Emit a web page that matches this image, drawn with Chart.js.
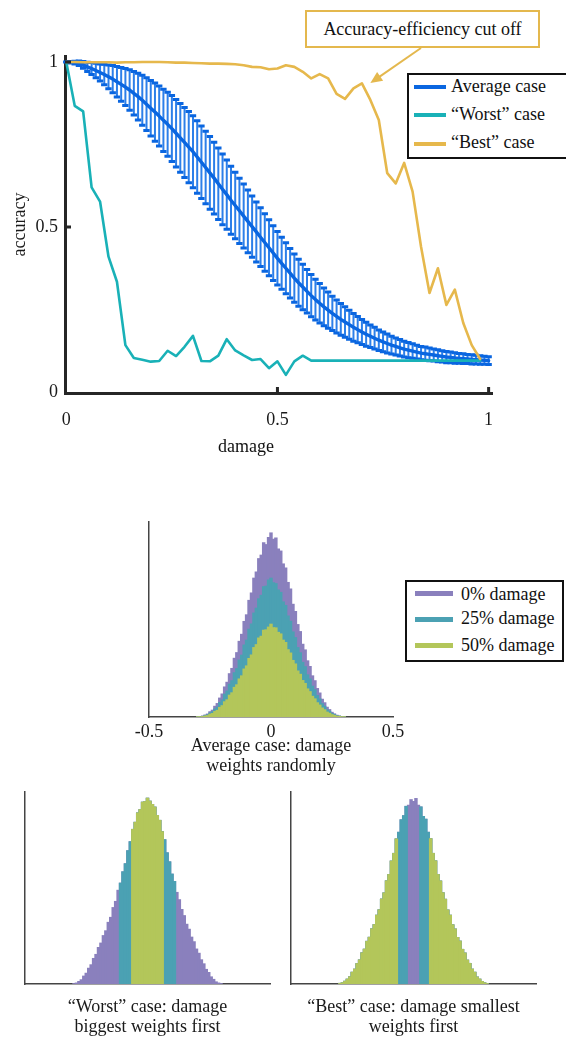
<!DOCTYPE html>
<html>
<head>
<meta charset="utf-8">
<title>Accuracy under weight damage</title>
<script src="https://cdn.jsdelivr.net/npm/chart.js@4.4.1/dist/chart.umd.min.js"></script>
<style>
  html, body { margin: 0; padding: 0; background: #fff; }
  body {
    position: relative; width: 566px; height: 1041px; overflow: hidden;
    font-family: "Liberation Serif", "Times New Roman", serif; font-size: 18px; color: #111;
  }
  canvas { position: absolute; }
  .txt { position: absolute; white-space: nowrap; line-height: 20px; }
  .swatch { position: absolute; }
  .frame { position: absolute; box-sizing: border-box; background: #fff; }
</style>
</head>
<body>
<canvas id="accuracyChart" width="566" height="470" style="left:0;top:0"></canvas>
<canvas id="avgHist" width="320" height="272" style="left:100px;top:510px"></canvas>
<canvas id="worstHist" width="283" height="261" style="left:0;top:780px"></canvas>
<canvas id="bestHist" width="283" height="261" style="left:283px;top:780px"></canvas>

<div class="txt" style="left:196px;top:436px;width:100px;text-align:center">damage</div>

<!-- note above the accuracy plot -->
<div class="frame" style="left:305px;top:10px;width:235px;height:38px;border:2px solid #e4b84e;text-align:center;line-height:34px;">Accuracy-efficiency cut off</div>

<!-- accuracy legend -->
<div class="frame" style="left:407px;top:73px;width:175px;height:86px;border:2px solid #111;"></div>
<div class="swatch" style="left:414px;top:85px;width:32px;height:4px;background:#0a66e0"></div>
<div class="txt" style="left:451px;top:76px">Average case</div>
<div class="swatch" style="left:414px;top:113px;width:32px;height:4px;background:#19b1b7"></div>
<div class="txt" style="left:451px;top:104px">“Worst” case</div>
<div class="swatch" style="left:414px;top:142px;width:32px;height:4px;background:#e6b84c"></div>
<div class="txt" style="left:451px;top:132px">“Best” case</div>

<!-- histogram legend -->
<div class="frame" style="left:405px;top:580px;width:159px;height:82px;border:2px solid #111;"></div>
<div class="swatch" style="left:415px;top:591px;width:38px;height:5px;background:#8a80bd"></div>
<div class="txt" style="left:461px;top:584px">0% damage</div>
<div class="swatch" style="left:415px;top:617px;width:38px;height:5px;background:#4ba1b3"></div>
<div class="txt" style="left:461px;top:608px">25% damage</div>
<div class="swatch" style="left:415px;top:643px;width:38px;height:5px;background:#b3c65a"></div>
<div class="txt" style="left:461px;top:635px">50% damage</div>

<script>
// ---- accuracy vs damage ----
const damageSteps = [
  0.00, 0.01, 0.02, 0.03, 0.04, 0.05, 0.06, 0.07, 0.08, 0.09,
  0.10, 0.11, 0.12, 0.13, 0.14, 0.15, 0.16, 0.17, 0.18, 0.19,
  0.20, 0.21, 0.22, 0.23, 0.24, 0.25, 0.26, 0.27, 0.28, 0.29,
  0.30, 0.31, 0.32, 0.33, 0.34, 0.35, 0.36, 0.37, 0.38, 0.39,
  0.40, 0.41, 0.42, 0.43, 0.44, 0.45, 0.46, 0.47, 0.48, 0.49,
  0.50, 0.51, 0.52, 0.53, 0.54, 0.55, 0.56, 0.57, 0.58, 0.59,
  0.60, 0.61, 0.62, 0.63, 0.64, 0.65, 0.66, 0.67, 0.68, 0.69,
  0.70, 0.71, 0.72, 0.73, 0.74, 0.75, 0.76, 0.77, 0.78, 0.79,
  0.80, 0.81, 0.82, 0.83, 0.84, 0.85, 0.86, 0.87, 0.88, 0.89,
  0.90, 0.91, 0.92, 0.93, 0.94, 0.95, 0.96, 0.97, 0.98, 0.99,
  1.00
];
const avgMean = [
  1.000, 0.999, 0.998, 0.996, 0.991, 0.985, 0.980, 0.974, 0.968, 0.962,
  0.955, 0.948, 0.940, 0.932, 0.924, 0.915, 0.905, 0.895, 0.884, 0.872,
  0.860, 0.848, 0.836, 0.823, 0.811, 0.798, 0.784, 0.770, 0.756, 0.742,
  0.728, 0.712, 0.696, 0.680, 0.664, 0.648, 0.631, 0.614, 0.598, 0.581,
  0.565, 0.549, 0.533, 0.517, 0.501, 0.485, 0.469, 0.453, 0.437, 0.421,
  0.405, 0.390, 0.375, 0.360, 0.345, 0.331, 0.318, 0.305, 0.292, 0.280,
  0.269, 0.258, 0.248, 0.238, 0.229, 0.220, 0.212, 0.204, 0.196, 0.189,
  0.182, 0.175, 0.169, 0.163, 0.157, 0.152, 0.147, 0.142, 0.138, 0.134,
  0.130, 0.127, 0.124, 0.121, 0.118, 0.116, 0.114, 0.112, 0.110, 0.108,
  0.106, 0.105, 0.103, 0.102, 0.101, 0.100, 0.099, 0.098, 0.097, 0.096,
  0.095
];
const avgErr = [
  0.000, 0.002, 0.004, 0.007, 0.010, 0.014, 0.018, 0.022, 0.026, 0.031,
  0.036, 0.041, 0.046, 0.051, 0.056, 0.061, 0.066, 0.071, 0.076, 0.080,
  0.084, 0.088, 0.091, 0.094, 0.097, 0.100, 0.102, 0.104, 0.106, 0.108,
  0.109, 0.110, 0.110, 0.110, 0.110, 0.109, 0.108, 0.107, 0.105, 0.103,
  0.101, 0.099, 0.097, 0.095, 0.093, 0.091, 0.089, 0.087, 0.085, 0.083,
  0.081, 0.079, 0.077, 0.075, 0.073, 0.071, 0.069, 0.066, 0.064, 0.062,
  0.060, 0.057, 0.055, 0.052, 0.050, 0.048, 0.046, 0.044, 0.042, 0.040,
  0.038, 0.036, 0.034, 0.033, 0.031, 0.030, 0.029, 0.027, 0.026, 0.025,
  0.024, 0.023, 0.022, 0.021, 0.020, 0.020, 0.019, 0.018, 0.018, 0.017,
  0.017, 0.016, 0.016, 0.015, 0.015, 0.014, 0.014, 0.013, 0.013, 0.012,
  0.012
];
const caseSteps = [
  0.00, 0.02, 0.04, 0.06, 0.08, 0.10, 0.12, 0.14, 0.16, 0.18,
  0.20, 0.22, 0.24, 0.26, 0.28, 0.30, 0.32, 0.34, 0.36, 0.38,
  0.40, 0.42, 0.44, 0.46, 0.48, 0.50, 0.52, 0.54, 0.56, 0.58,
  0.60, 0.62, 0.64, 0.66, 0.68, 0.70, 0.72, 0.74, 0.76, 0.78,
  0.80, 0.82, 0.84, 0.86, 0.88, 0.90, 0.92, 0.94, 0.96, 0.98
];
const worstAcc = [
  1.000, 0.867, 0.850, 0.620, 0.577, 0.410, 0.334, 0.142, 0.103, 0.098,
  0.092, 0.094, 0.125, 0.109, 0.137, 0.170, 0.094, 0.093, 0.110, 0.160,
  0.126, 0.111, 0.097, 0.100, 0.072, 0.093, 0.052, 0.093, 0.110, 0.095,
  0.095, 0.095, 0.095, 0.095, 0.095, 0.095, 0.095, 0.095, 0.095, 0.095,
  0.095, 0.095, 0.095, 0.095, 0.095, 0.095, 0.095, 0.095, 0.095, 0.095
];
const bestAcc = [
  1.000, 1.000, 0.999, 0.999, 0.999, 0.999, 0.998, 0.999, 0.999, 1.000,
  1.000, 1.000, 0.999, 0.998, 0.998, 0.997, 0.996, 0.995, 0.995, 0.994,
  0.993, 0.990, 0.985, 0.984, 0.978, 0.980, 0.990, 0.985, 0.970, 0.950,
  0.963, 0.950, 0.903, 0.888, 0.920, 0.935, 0.885, 0.824, 0.663, 0.632,
  0.694, 0.607, 0.440, 0.300, 0.375, 0.264, 0.310, 0.209, 0.142, 0.100
];
const damageTicks = [0, 0.5, 1];
const accTicks = [0, 0.5, 1];
const cutoffPoint = { damage: 0.72, accuracy: 0.936 };

// ---- weight histograms (bin centres, counts) ----
const _ = null;
const histBins = [
  -0.30, -0.29, -0.28, -0.27, -0.26, -0.25, -0.24, -0.23, -0.22, -0.21,
  -0.20, -0.19, -0.18, -0.17, -0.16, -0.15, -0.14, -0.13, -0.12, -0.11,
  -0.10, -0.09, -0.08, -0.07, -0.06, -0.05, -0.04, -0.03, -0.02, -0.01,
   0.00,  0.01,  0.02,  0.03,  0.04,  0.05,  0.06,  0.07,  0.08,  0.09,
   0.10,  0.11,  0.12,  0.13,  0.14,  0.15,  0.16,  0.17,  0.18,  0.19,
   0.20,  0.21,  0.22,  0.23,  0.24,  0.25,  0.26,  0.27,  0.28,  0.29,
   0.30
];
const weightTicks = [-0.5, 0, 0.5];
const damageLevels = ['0% damage', '25% damage', '50% damage'];

const avg0 = [1,2,5,10,15,27,35,55,69,97,118,154,178,222,249,301,330,388,424,490,
  524,598,636,712,744,812,830,893,884,921,944,912,918,862,851,785,764,690,656,578,
  541,474,438,373,344,288,259,211,186,146,123,91,73,50,38,24,16,9,5,2,1];
const avg25 = [1,2,3,8,11,20,27,41,51,74,87,117,133,168,186,227,248,292,317,369,
  394,450,477,533,558,606,624,668,671,702,712,688,684,651,639,590,572,518,491,436,
  407,356,329,280,258,216,195,158,140,110,92,68,55,37,29,18,12,6,4,1,1];
const avg50 = [1,1,2,5,7,14,18,28,34,49,58,78,88,112,124,152,165,195,211,246,
  262,300,318,356,371,405,414,445,447,461,476,458,457,434,426,394,382,345,328,290,
  272,236,219,187,172,144,130,106,93,73,61,46,37,25,19,12,8,4,3,1,1];

const worst0 = [2,5,13,22,41,56,82,100,133,154,190,213,252,277,321,347,398,430,488,525,
  584,626,694,741,805,842,890,908,946,950,968,952,935,921,878,852,793,751,683,636,
  572,534,477,439,388,356,311,285,244,220,182,160,126,105,76,60,37,24,11,5,2];
const worst25 = [_,_,_,_,_,_,_,_,_,_,_,_,_,_,_,_,_,_,_,525,
  584,626,694,741,805,842,890,908,946,950,968,952,935,921,878,852,793,751,683,636,
  572,534,_,_,_,_,_,_,_,_,_,_,_,_,_,_,_,_,_,_,_];
const worst50 = [_,_,_,_,_,_,_,_,_,_,_,_,_,_,_,_,_,_,_,_,
  _,_,_,_,805,842,890,908,946,950,968,952,935,921,878,852,793,_,_,_,
  _,_,_,_,_,_,_,_,_,_,_,_,_,_,_,_,_,_,_,_,_];

const best0 = [3,6,14,25,37,61,77,106,125,162,181,222,243,287,309,358,386,442,474,537,
  570,640,680,755,790,855,876,925,931,960,951,966,931,922,872,858,790,756,680,641,
  570,536,475,441,385,358,308,286,242,223,180,161,124,107,77,61,36,25,13,6,2];
const best25 = [3,6,14,25,37,61,77,106,125,162,181,222,243,287,309,358,386,442,474,537,
  570,640,680,755,790,855,876,925,_,_,_,_,_,922,872,858,790,756,680,641,
  570,536,475,441,385,358,308,286,242,223,180,161,124,107,77,61,36,25,13,6,2];
const best50 = [3,6,14,25,37,61,77,106,125,162,181,222,243,287,309,358,386,442,474,537,
  570,640,680,755,_,_,_,_,_,_,_,_,_,_,_,_,_,756,680,641,
  570,536,475,441,385,358,308,286,242,223,180,161,124,107,77,61,36,25,13,6,2];

Chart.defaults.font.family = '"Liberation Serif", "Times New Roman", serif';
Chart.defaults.font.size = 18;
Chart.defaults.color = '#1a1a1a';

const axisInk = '#262626';

// vertical error bars with caps for the average case
const errorBars = {
  id: 'errorBars',
  beforeDatasetsDraw(chart) {
    const { ctx, scales: { x, y } } = chart;
    const cap = 3.2;
    ctx.save();
    damageSteps.forEach((d, i) => {
      const px = x.getPixelForValue(d);
      const hi = y.getPixelForValue(avgMean[i] + avgErr[i]);
      const lo = y.getPixelForValue(avgMean[i] - avgErr[i]);
      ctx.strokeStyle = '#2c7fe9';
      ctx.lineWidth = 2;
      ctx.beginPath();
      ctx.moveTo(px, hi);
      ctx.lineTo(px, lo);
      ctx.stroke();
      ctx.strokeStyle = '#0a66e0';
      ctx.lineWidth = 3;
      ctx.beginPath();
      ctx.moveTo(px - cap, hi); ctx.lineTo(px + cap, hi);
      ctx.moveTo(px - cap, lo); ctx.lineTo(px + cap, lo);
      ctx.stroke();
    });
    ctx.restore();
  }
};

// short tick marks pointing into the plot
const innerTicks = {
  id: 'innerTicks',
  afterDraw(chart) {
    const { ctx, chartArea, scales: { x, y } } = chart;
    ctx.save();
    ctx.strokeStyle = axisInk;
    ctx.lineWidth = 3;
    ctx.beginPath();
    accTicks.filter(v => v > 0).forEach(v => {
      const py = y.getPixelForValue(v);
      ctx.moveTo(chartArea.left, py);
      ctx.lineTo(chartArea.left + 6, py);
    });
    damageTicks.filter(v => v > 0).forEach(v => {
      const px = x.getPixelForValue(v);
      ctx.moveTo(px, chartArea.bottom);
      ctx.lineTo(px, chartArea.bottom - 6);
    });
    ctx.stroke();
    ctx.restore();
  }
};

// arrow from the note box down to the cut-off point
const calloutArrow = {
  id: 'calloutArrow',
  afterDatasetsDraw(chart) {
    const { ctx, scales: { x, y } } = chart;
    const tipX = x.getPixelForValue(cutoffPoint.damage);
    const tipY = y.getPixelForValue(cutoffPoint.accuracy);
    const fromX = 421, fromY = 48;
    const ang = Math.atan2(tipY - fromY, tipX - fromX);
    const head = 13, spread = 0.42;
    ctx.save();
    ctx.strokeStyle = '#e4b84e';
    ctx.fillStyle = '#e4b84e';
    ctx.lineWidth = 2;
    ctx.beginPath();
    ctx.moveTo(fromX, fromY);
    ctx.lineTo(tipX - head * 0.8 * Math.cos(ang), tipY - head * 0.8 * Math.sin(ang));
    ctx.stroke();
    ctx.beginPath();
    ctx.moveTo(tipX, tipY);
    ctx.lineTo(tipX - head * Math.cos(ang - spread), tipY - head * Math.sin(ang - spread));
    ctx.lineTo(tipX - head * Math.cos(ang + spread), tipY - head * Math.sin(ang + spread));
    ctx.closePath();
    ctx.fill();
    ctx.restore();
  }
};

new Chart(document.getElementById('accuracyChart'), {
  type: 'line',
  data: {
    datasets: [
      {
        label: 'Average case',
        data: damageSteps.map((d, i) => ({ x: d, y: avgMean[i] })),
        borderColor: '#0a66e0',
        borderWidth: 3.4,
        order: 3
      },
      {
        label: '“Worst” case',
        data: caseSteps.map((d, i) => ({ x: d, y: worstAcc[i] })),
        borderColor: '#19b1b7',
        borderWidth: 2.6,
        order: 2
      },
      {
        label: '“Best” case',
        data: caseSteps.map((d, i) => ({ x: d, y: bestAcc[i] })),
        borderColor: '#e6b84c',
        borderWidth: 2.6,
        order: 1
      }
    ]
  },
  options: {
    responsive: false,
    animation: false,
    devicePixelRatio: 1,
    layout: { padding: { top: 56, right: 74, left: 0, bottom: 0 } },
    elements: {
      point: { radius: 0 },
      line: { tension: 0, borderJoinStyle: 'round', borderCapStyle: 'round' }
    },
    plugins: { legend: { display: false }, tooltip: { enabled: false } },
    scales: {
      x: {
        type: 'linear',
        min: -0.003,
        max: 1.008,
        afterBuildTicks: s => { s.ticks = damageTicks.map(v => ({ value: v })); },
        afterFit: s => { s.height = 77; },
        grid: { display: false, drawTicks: false },
        border: { color: axisInk, width: 3 },
        ticks: { padding: 16, maxRotation: 0, autoSkip: false, callback: v => String(v) }
      },
      y: {
        min: -0.003,
        max: 1.018,
        afterBuildTicks: s => { s.ticks = accTicks.map(v => ({ value: v })); },
        afterFit: s => { s.width = 65; },
        grid: { display: false, drawTicks: false },
        border: { color: axisInk, width: 3 },
        ticks: { padding: 7, autoSkip: false, callback: v => String(v) },
        title: { display: true, text: 'accuracy', padding: { top: 9, bottom: 0 } }
      }
    }
  },
  plugins: [errorBars, innerTicks, calloutArrow]
});

function histogram(id, series, opts) {
  const colors = ['#8a80bd', '#4ba1b3', '#b3c65a'];
  return new Chart(document.getElementById(id), {
    type: 'bar',
    data: {
      datasets: series.map((counts, k) => ({
        label: damageLevels[k],
        data: histBins.map((b, i) => ({ x: b, y: counts[i] })),
        backgroundColor: colors[k],
        borderWidth: 0,
        barPercentage: 1,
        categoryPercentage: 1,
        inflateAmount: 0.5,
        grouped: false,
        order: 3 - k
      }))
    },
    options: {
      responsive: false,
      animation: false,
      devicePixelRatio: 1,
      layout: { padding: { top: 12, right: opts.padRight, left: 0, bottom: 0 } },
      plugins: { legend: { display: false }, tooltip: { enabled: false } },
      scales: {
        x: {
          type: 'linear',
          offset: false,
          min: -0.5,
          max: 0.5,
          afterBuildTicks: s => { s.ticks = weightTicks.map(v => ({ value: v })); },
          afterFit: s => { s.height = opts.axisHeight; },
          grid: { display: false, drawTicks: false },
          border: { color: '#444', width: 1.5 },
          ticks: { display: opts.showTicks, padding: 4, maxRotation: 0, autoSkip: false, callback: v => String(v) },
          title: {
            display: true,
            text: opts.title,
            font: { size: 18, lineHeight: 20 / 18 },
            padding: { top: 0, bottom: opts.titlePad }
          }
        },
        y: {
          min: 0,
          max: 1000,
          afterFit: s => { s.width = opts.axisWidth; },
          grid: { display: false, drawTicks: false },
          border: { color: '#444', width: 1.5 },
          ticks: { display: false }
        }
      }
    }
  });
}

histogram('avgHist', [avg0, avg25, avg50], {
  axisWidth: 49, padRight: 27, axisHeight: 65, titlePad: 6, showTicks: true,
  title: ['Average case: damage', 'weights randomly']
});
histogram('worstHist', [worst0, worst25, worst50], {
  axisWidth: 25, padRight: 13, axisHeight: 57, titlePad: 4, showTicks: false,
  title: ['“Worst” case: damage', 'biggest weights first']
});
histogram('bestHist', [best0, best25, best50], {
  axisWidth: 8, padRight: 30, axisHeight: 57, titlePad: 4, showTicks: false,
  title: ['“Best” case: damage smallest', 'weights first']
});
</script>
</body>
</html>
